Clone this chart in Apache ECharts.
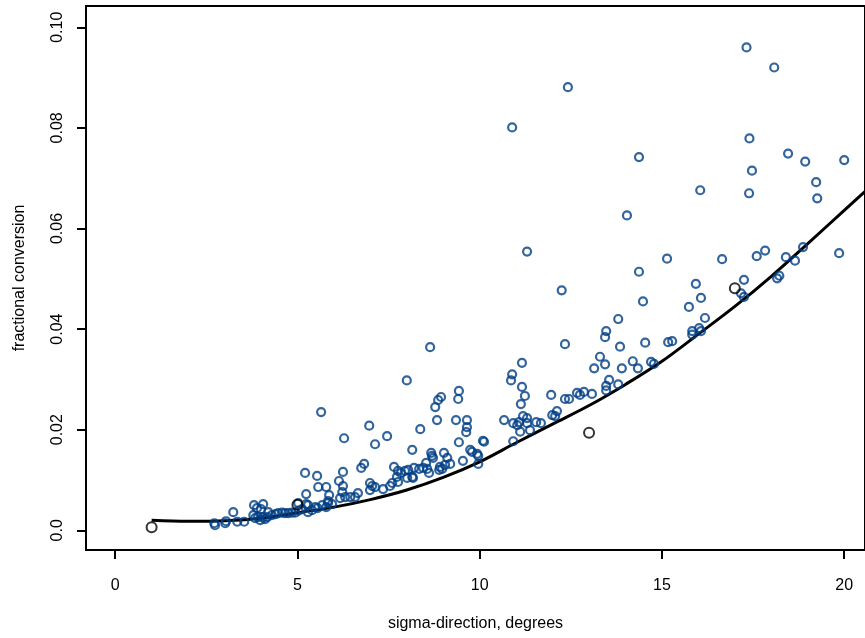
<!DOCTYPE html>
<html>
<head>
<meta charset="utf-8">
<script src="https://cdn.jsdelivr.net/npm/echarts@6/dist/echarts.min.js"></script>
<style>
  html, body { margin: 0; padding: 0; background: #fff; }
  #chart { width: 865px; height: 638px; }
</style>
</head>
<body>
<div id="chart"></div>
<script>
// measured points (sigma-direction, fractional conversion)
var bluePoints = [
  [2.72, 0.0014], [2.74, 0.0010], [3.04, 0.0018], [3.02, 0.0014], [3.24, 0.0036], [3.35, 0.0017], [3.54, 0.0017],
  [3.81, 0.0050], [4.06, 0.0052], [3.89, 0.0044], [4.00, 0.0042],
  [3.79, 0.0030], [3.92, 0.0026], [4.06, 0.0026], [4.17, 0.0026], [4.20, 0.0036], [3.84, 0.0024], [3.98, 0.0020], [4.11, 0.0022],
  [4.30, 0.0030], [4.40, 0.0032], [4.47, 0.0034], [4.58, 0.0035], [4.66, 0.0034], [4.75, 0.0034], [4.85, 0.0035],
  [4.94, 0.0035], [5.03, 0.0039], [5.13, 0.0042], [5.24, 0.0052], [5.29, 0.0036], [5.40, 0.0040], [5.55, 0.0044],
  [5.02, 0.0054], [5.29, 0.0050], [5.49, 0.0046], [5.68, 0.0050], [5.84, 0.0054], [5.79, 0.0046],
  [5.21, 0.0114], [5.54, 0.0108], [5.57, 0.0086], [5.79, 0.0086], [5.24, 0.0072], [5.65, 0.0235],
  [5.87, 0.0070], [5.84, 0.0058], [5.95, 0.0052],
  [6.25, 0.0116], [6.14, 0.0098], [6.25, 0.0088], [6.23, 0.0076], [6.17, 0.0064], [6.31, 0.0066], [6.45, 0.0066],
  [6.58, 0.0066], [6.66, 0.0074], [6.28, 0.0183], [6.75, 0.0124], [6.83, 0.0132], [6.97, 0.0208],
  [6.99, 0.0094], [7.05, 0.0088], [7.13, 0.0086], [6.99, 0.0080], [7.35, 0.0082], [7.54, 0.0088], [7.60, 0.0094],
  [7.13, 0.0171], [7.46, 0.0187],
  [7.65, 0.0126], [7.76, 0.0118], [7.84, 0.0114], [7.73, 0.0106], [7.76, 0.0096], [7.95, 0.0118], [8.04, 0.0120],
  [8.15, 0.0106], [8.20, 0.0124], [8.34, 0.0122], [8.45, 0.0124], [8.01, 0.0104], [8.17, 0.0104],
  [8.00, 0.0298], [8.15, 0.0160], [8.37, 0.0201],
  [8.53, 0.0134], [8.56, 0.0122], [8.61, 0.0114],
  [8.67, 0.0154], [8.69, 0.0148], [8.72, 0.0144], [9.02, 0.0154], [9.11, 0.0144], [9.19, 0.0132],
  [8.91, 0.0126], [8.97, 0.0122], [8.89, 0.0120], [9.05, 0.0130],
  [8.64, 0.0364], [8.94, 0.0265], [8.86, 0.0259], [8.78, 0.0245], [9.43, 0.0277], [9.41, 0.0261],
  [8.83, 0.0219], [9.35, 0.0219], [9.65, 0.0219], [9.65, 0.0205], [9.63, 0.0195], [9.43, 0.0175],
  [9.74, 0.0160], [9.79, 0.0156], [9.93, 0.0152], [9.96, 0.0148], [9.54, 0.0138], [9.96, 0.0132],
  [10.09, 0.0178], [10.12, 0.0176],
  [10.89, 0.0801], [11.30, 0.0554], [11.16, 0.0333], [10.89, 0.0310], [10.86, 0.0298], [11.16, 0.0285],
  [11.24, 0.0267], [11.13, 0.0251],
  [10.67, 0.0219], [10.92, 0.0213], [11.03, 0.0209], [11.08, 0.0215], [11.11, 0.0196], [11.19, 0.0227],
  [11.30, 0.0223], [11.30, 0.0213], [11.38, 0.0199], [11.55, 0.0215], [11.68, 0.0213], [10.92, 0.0177],
  [12.42, 0.0881], [12.25, 0.0477], [12.34, 0.0370], [11.96, 0.0269], [12.34, 0.0261], [12.45, 0.0261],
  [12.67, 0.0273], [12.75, 0.0269], [12.86, 0.0275], [13.08, 0.0271],
  [11.99, 0.0229], [12.07, 0.0227], [12.12, 0.0237],
  [13.30, 0.0345], [13.44, 0.0330], [13.14, 0.0322], [13.47, 0.0396], [13.44, 0.0384], [13.55, 0.0299],
  [13.47, 0.0287], [13.47, 0.0278],
  [13.80, 0.0420], [13.85, 0.0365], [13.90, 0.0322], [14.20, 0.0336], [14.34, 0.0322], [13.80, 0.0290],
  [14.70, 0.0335], [14.78, 0.0331],
  [14.37, 0.0742], [14.04, 0.0626], [14.37, 0.0514], [14.48, 0.0455], [14.54, 0.0373],
  [15.14, 0.0540], [15.17, 0.0374], [15.28, 0.0376], [15.93, 0.0490], [15.74, 0.0444], [16.07, 0.0462],
  [16.18, 0.0422], [16.05, 0.0676],
  [15.83, 0.0396], [15.83, 0.0389], [16.02, 0.0402], [16.07, 0.0396], [16.65, 0.0539],
  [17.32, 0.0960], [17.40, 0.0779], [17.47, 0.0715], [17.39, 0.0670], [17.60, 0.0545], [17.83, 0.0556],
  [17.25, 0.0498], [17.17, 0.0471], [17.25, 0.0464],
  [18.08, 0.0920], [18.46, 0.0749], [18.40, 0.0543], [18.65, 0.0536], [18.16, 0.0501], [18.22, 0.0506],
  [18.87, 0.0563], [18.93, 0.0733],
  [19.23, 0.0692], [19.26, 0.0660], [20.00, 0.0736], [19.86, 0.0551]
]

var blackPoints = [[1.0, 0.0006], [5.0, 0.0051], [13.0, 0.0194], [17.0, 0.0481]]

// fitted curve
var curveX = [1, 2, 3, 4, 5, 6, 7, 8, 9, 10, 11, 12, 13, 14, 15, 16, 17, 18, 19, 20, 21]
var curveY = [0.0020, 0.0018, 0.0019, 0.0024, 0.0035, 0.0046, 0.0061, 0.0080, 0.0105, 0.0136, 0.0174,
  0.0211, 0.0248, 0.0290, 0.0336, 0.0390, 0.0445, 0.0505, 0.0570, 0.0636, 0.0702]

var xTicks = [0, 5, 10, 15, 20]
var yTicks = [0, 0.02, 0.04, 0.06, 0.08, 0.10]
var yTickLabels = ['0.0', '0.02', '0.04', '0.06', '0.08', '0.10']

var font = "'Liberation Sans', Arial, Helvetica, sans-serif"

var chart = echarts.init(document.getElementById('chart'))
var option = {
  animation: false,
  backgroundColor: '#fff',
  grid: {
    left: 86,
    top: 6,
    right: 0,
    bottom: 88,
    show: true,
    borderColor: '#000',
    borderWidth: 2
  },
  xAxis: {
    type: 'value',
    min: -0.8,
    max: 20.57,
    name: 'sigma-direction, degrees',
    nameLocation: 'middle',
    nameGap: 66,
    nameTextStyle: { fontSize: 16, color: '#000', fontFamily: font },
    axisLine: { show: true, onZero: false, lineStyle: { color: '#000', width: 2 } },
    axisTick: { show: true, length: 9, customValues: xTicks, lineStyle: { color: '#000', width: 2 } },
    axisLabel: { customValues: xTicks, margin: 28, fontSize: 16, color: '#000', fontFamily: font },
    splitLine: { show: false }
  },
  yAxis: {
    type: 'value',
    min: -0.00392,
    max: 0.10423,
    name: 'fractional conversion',
    nameLocation: 'middle',
    nameGap: 58,
    nameTextStyle: { fontSize: 16, color: '#000', fontFamily: font },
    axisLine: { show: true, onZero: false, lineStyle: { color: '#000', width: 2 } },
    axisTick: { show: true, length: 9, customValues: yTicks, lineStyle: { color: '#000', width: 2 } },
    axisLabel: {
      customValues: yTicks,
      rotate: 90,
      margin: 20,
      fontSize: 16,
      color: '#000',
      fontFamily: font,
      formatter: function (v) {
        var i = yTicks.findIndex(function (t) { return Math.abs(t - v) < 1e-9 })
        return i >= 0 ? yTickLabels[i] : ''
      }
    },
    splitLine: { show: false }
  },
  series: [
    {
      type: 'line',
      data: curveX.map(function (x, i) { return [x, curveY[i]] }),
      smooth: 0.35,
      symbol: 'none',
      clip: true,
      lineStyle: { color: '#000', width: 3 },
      z: 2
    },
    {
      type: 'scatter',
      data: bluePoints,
      symbol: 'circle',
      symbolSize: 8,
      itemStyle: { color: 'rgba(0,0,0,0)', borderColor: '#003f85', borderWidth: 2.2 },
      z: 3
    },
    {
      type: 'scatter',
      data: blackPoints,
      symbol: 'circle',
      symbolSize: 10,
      itemStyle: { color: 'rgba(0,0,0,0)', borderColor: '#000', borderWidth: 2 },
      z: 4
    }
  ]
}
chart.setOption(option)
</script>
</body>
</html>
